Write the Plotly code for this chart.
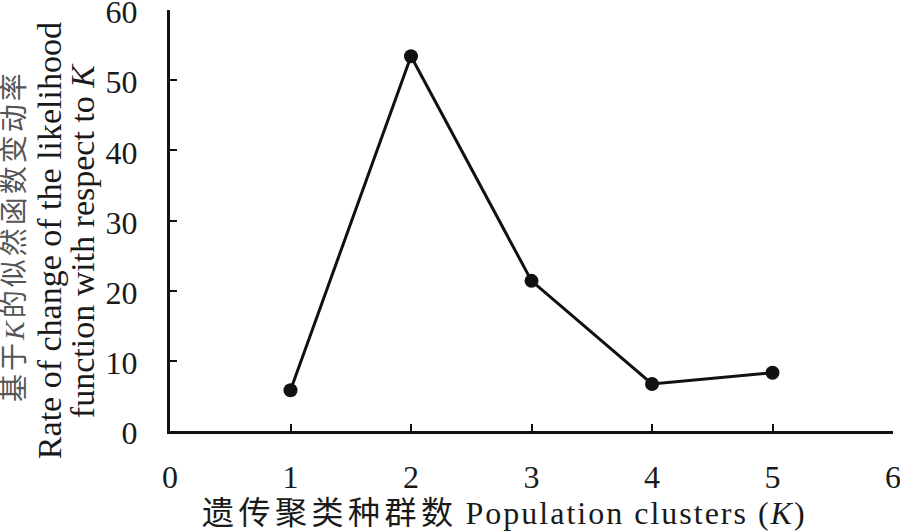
import plotly.graph_objects as go

# K values and rate of change of the likelihood function (delta K)
k_values = [1, 2, 3, 4, 5]
delta_k = [5.8, 53.4, 21.4, 6.7, 8.3]

x_ticks = [0, 1, 2, 3, 4, 5, 6]
y_ticks = [0, 10, 20, 30, 40, 50, 60]

x_title = (
    "<span style='letter-spacing:4.5px'>遗传聚类种群数</span> "
    "<span style='letter-spacing:2px'>Population clusters (<i>K</i>)</span>"
)
y_title_lines = [
    "<span style='color:#555555;letter-spacing:3px'>基于<i>K</i>的似然函数变动率</span>",
    "Rate of change of the likelihood",
    "function with respect to <i>K</i>",
]

FONT = "Liberation Serif, Times New Roman, Noto Sans CJK SC, serif"
INK = "#111111"

fig = go.Figure()
fig.add_trace(
    go.Scatter(
        x=k_values,
        y=delta_k,
        mode="lines+markers",
        line=dict(color=INK, width=3),
        marker=dict(color=INK, size=14),
        showlegend=False,
    )
)

axis_style = dict(
    ticks="inside",
    ticklen=7,
    tickwidth=2,
    tickcolor=INK,
    showline=True,
    linecolor=INK,
    linewidth=3,
    showgrid=False,
    zeroline=False,
    automargin=False,
    ticklabeloverflow="allow",
)

fig.update_layout(
    template="none",
    width=900,
    height=531,
    margin=dict(l=170, r=7, t=10, b=100),
    paper_bgcolor="white",
    plot_bgcolor="white",
    font=dict(family=FONT, size=32, color="#1a1a1a"),
    xaxis=dict(range=[0, 6], tickvals=x_ticks, ticklabelstandoff=16, **axis_style),
    yaxis=dict(
        range=[0, 60],
        tickvals=y_ticks,
        ticklabelstandoff=23,
        ticklabelshift=2,
        **axis_style,
    ),
)

# x axis title
fig.add_annotation(
    text=x_title,
    xref="paper",
    yref="paper",
    x=0.463,
    y=0,
    yshift=-82,
    xanchor="center",
    yanchor="middle",
    showarrow=False,
)

# y axis title, three rotated lines
for shift, ypos, size, line in zip(
    [-156, -121, -88], [0.463, 0.451, 0.451], [28, 34, 34], y_title_lines
):
    fig.add_annotation(
        text=line,
        xref="paper",
        yref="paper",
        x=0,
        y=ypos,
        xshift=shift,
        xanchor="center",
        yanchor="middle",
        textangle=-90,
        font=dict(size=size),
        showarrow=False,
    )

# drop the default 8px body margin so the figure fills the window exactly
fig.write_html(
    "out.html",
    config={"displayModeBar": False},
    post_script="document.body.style.margin = '0';",
)
